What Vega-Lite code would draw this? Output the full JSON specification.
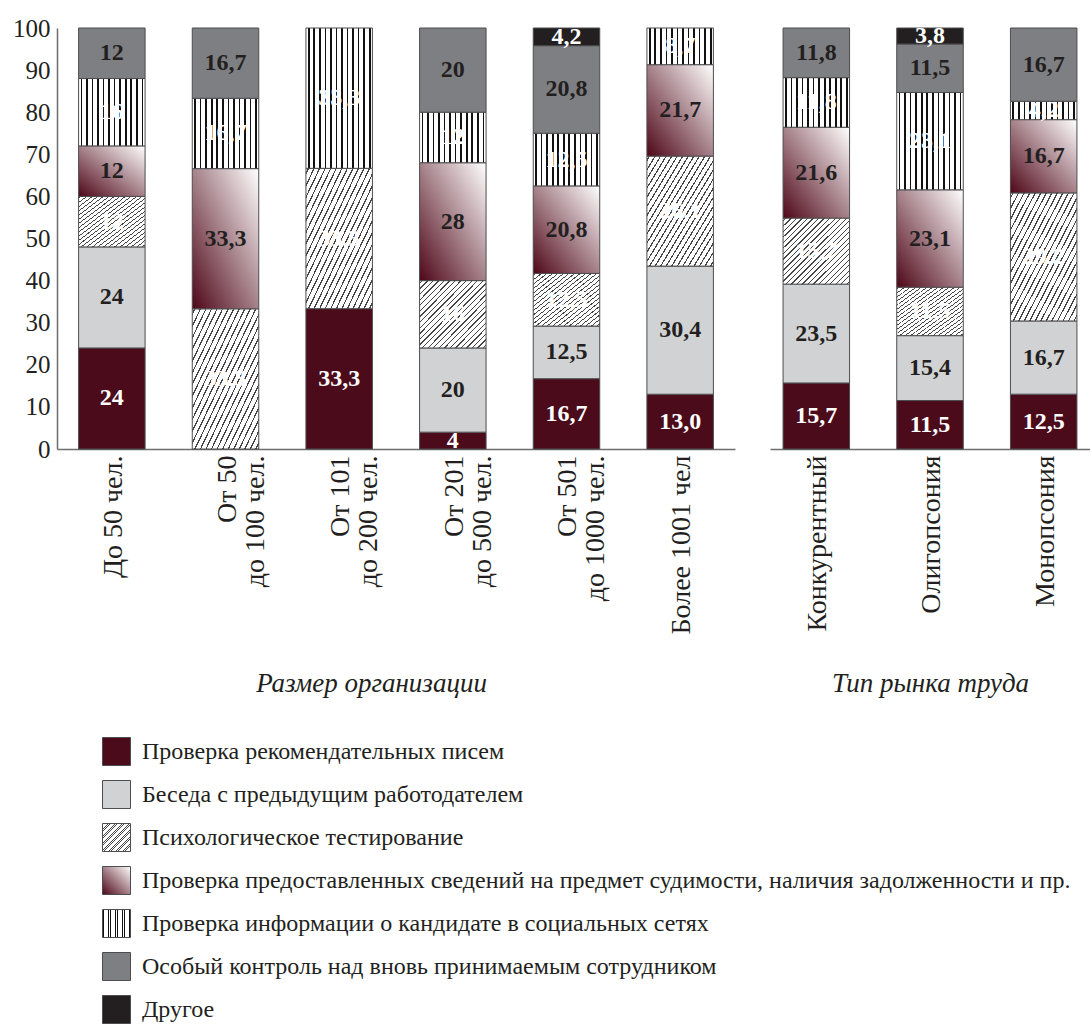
{
  "$schema": "https://vega.github.io/schema/vega-lite/v6.json",
  "padding": {"left": 12, "top": 16, "right": 0, "bottom": 0},
  "config": {"view": {"stroke": null}, "font": "'Liberation Serif', 'Times New Roman', Tinos, 'DejaVu Serif', serif"},
  "data": {"values": [
    {"group": "size", "cat": "До 50 чел.", "method": "Проверка рекомендательных писем", "value": 24, "label": "24"},
    {"group": "size", "cat": "До 50 чел.", "method": "Беседа с предыдущим работодателем", "value": 24, "label": "24"},
    {"group": "size", "cat": "До 50 чел.", "method": "Психологическое тестирование", "value": 12, "label": "12"},
    {"group": "size", "cat": "До 50 чел.", "method": "Проверка предоставленных сведений на предмет судимости, наличия задолженности и пр.", "value": 12, "label": "12"},
    {"group": "size", "cat": "До 50 чел.", "method": "Проверка информации о кандидате в социальных сетях", "value": 16, "label": "16"},
    {"group": "size", "cat": "До 50 чел.", "method": "Особый контроль над вновь принимаемым сотрудником", "value": 12, "label": "12"},
    {"group": "size", "cat": "От 50 до 100 чел.", "method": "Психологическое тестирование", "value": 33.3, "label": "33,3"},
    {"group": "size", "cat": "От 50 до 100 чел.", "method": "Проверка предоставленных сведений на предмет судимости, наличия задолженности и пр.", "value": 33.3, "label": "33,3"},
    {"group": "size", "cat": "От 50 до 100 чел.", "method": "Проверка информации о кандидате в социальных сетях", "value": 16.7, "label": "16,7"},
    {"group": "size", "cat": "От 50 до 100 чел.", "method": "Особый контроль над вновь принимаемым сотрудником", "value": 16.7, "label": "16,7"},
    {"group": "size", "cat": "От 101 до 200 чел.", "method": "Проверка рекомендательных писем", "value": 33.3, "label": "33,3"},
    {"group": "size", "cat": "От 101 до 200 чел.", "method": "Психологическое тестирование", "value": 33.3, "label": "33,3"},
    {"group": "size", "cat": "От 101 до 200 чел.", "method": "Проверка информации о кандидате в социальных сетях", "value": 33.3, "label": "33,3"},
    {"group": "size", "cat": "От 201 до 500 чел.", "method": "Проверка рекомендательных писем", "value": 4, "label": "4"},
    {"group": "size", "cat": "От 201 до 500 чел.", "method": "Беседа с предыдущим работодателем", "value": 20, "label": "20"},
    {"group": "size", "cat": "От 201 до 500 чел.", "method": "Психологическое тестирование", "value": 16, "label": "16"},
    {"group": "size", "cat": "От 201 до 500 чел.", "method": "Проверка предоставленных сведений на предмет судимости, наличия задолженности и пр.", "value": 28, "label": "28"},
    {"group": "size", "cat": "От 201 до 500 чел.", "method": "Проверка информации о кандидате в социальных сетях", "value": 12, "label": "12"},
    {"group": "size", "cat": "От 201 до 500 чел.", "method": "Особый контроль над вновь принимаемым сотрудником", "value": 20, "label": "20"},
    {"group": "size", "cat": "От 501 до 1000 чел.", "method": "Проверка рекомендательных писем", "value": 16.7, "label": "16,7"},
    {"group": "size", "cat": "От 501 до 1000 чел.", "method": "Беседа с предыдущим работодателем", "value": 12.5, "label": "12,5"},
    {"group": "size", "cat": "От 501 до 1000 чел.", "method": "Психологическое тестирование", "value": 12.5, "label": "12,5"},
    {"group": "size", "cat": "От 501 до 1000 чел.", "method": "Проверка предоставленных сведений на предмет судимости, наличия задолженности и пр.", "value": 20.8, "label": "20,8"},
    {"group": "size", "cat": "От 501 до 1000 чел.", "method": "Проверка информации о кандидате в социальных сетях", "value": 12.5, "label": "12,5"},
    {"group": "size", "cat": "От 501 до 1000 чел.", "method": "Особый контроль над вновь принимаемым сотрудником", "value": 20.8, "label": "20,8"},
    {"group": "size", "cat": "От 501 до 1000 чел.", "method": "Другое", "value": 4.2, "label": "4,2"},
    {"group": "size", "cat": "Более 1001 чел", "method": "Проверка рекомендательных писем", "value": 13.0, "label": "13,0"},
    {"group": "size", "cat": "Более 1001 чел", "method": "Беседа с предыдущим работодателем", "value": 30.4, "label": "30,4"},
    {"group": "size", "cat": "Более 1001 чел", "method": "Психологическое тестирование", "value": 26.1, "label": "26,1"},
    {"group": "size", "cat": "Более 1001 чел", "method": "Проверка предоставленных сведений на предмет судимости, наличия задолженности и пр.", "value": 21.7, "label": "21,7"},
    {"group": "size", "cat": "Более 1001 чел", "method": "Проверка информации о кандидате в социальных сетях", "value": 8.7, "label": "8,7"},
    {"group": "market", "cat": "Конкурентный", "method": "Проверка рекомендательных писем", "value": 15.7, "label": "15,7"},
    {"group": "market", "cat": "Конкурентный", "method": "Беседа с предыдущим работодателем", "value": 23.5, "label": "23,5"},
    {"group": "market", "cat": "Конкурентный", "method": "Психологическое тестирование", "value": 15.7, "label": "15,7"},
    {"group": "market", "cat": "Конкурентный", "method": "Проверка предоставленных сведений на предмет судимости, наличия задолженности и пр.", "value": 21.6, "label": "21,6"},
    {"group": "market", "cat": "Конкурентный", "method": "Проверка информации о кандидате в социальных сетях", "value": 11.8, "label": "11,8"},
    {"group": "market", "cat": "Конкурентный", "method": "Особый контроль над вновь принимаемым сотрудником", "value": 11.8, "label": "11,8"},
    {"group": "market", "cat": "Олигопсония", "method": "Проверка рекомендательных писем", "value": 11.5, "label": "11,5"},
    {"group": "market", "cat": "Олигопсония", "method": "Беседа с предыдущим работодателем", "value": 15.4, "label": "15,4"},
    {"group": "market", "cat": "Олигопсония", "method": "Психологическое тестирование", "value": 11.5, "label": "11,5"},
    {"group": "market", "cat": "Олигопсония", "method": "Проверка предоставленных сведений на предмет судимости, наличия задолженности и пр.", "value": 23.1, "label": "23,1"},
    {"group": "market", "cat": "Олигопсония", "method": "Проверка информации о кандидате в социальных сетях", "value": 23.1, "label": "23,1"},
    {"group": "market", "cat": "Олигопсония", "method": "Особый контроль над вновь принимаемым сотрудником", "value": 11.5, "label": "11,5"},
    {"group": "market", "cat": "Олигопсония", "method": "Другое", "value": 3.8, "label": "3,8"},
    {"group": "market", "cat": "Монопсония", "method": "Проверка рекомендательных писем", "value": 12.5, "label": "12,5"},
    {"group": "market", "cat": "Монопсония", "method": "Беседа с предыдущим работодателем", "value": 16.7, "label": "16,7"},
    {"group": "market", "cat": "Монопсония", "method": "Психологическое тестирование", "value": 29.2, "label": "29,2"},
    {"group": "market", "cat": "Монопсония", "method": "Проверка предоставленных сведений на предмет судимости, наличия задолженности и пр.", "value": 16.7, "label": "16,7"},
    {"group": "market", "cat": "Монопсония", "method": "Проверка информации о кандидате в социальных сетях", "value": 4.2, "label": "4,2"},
    {"group": "market", "cat": "Монопсония", "method": "Особый контроль над вновь принимаемым сотрудником", "value": 16.7, "label": "16,7"}
  ]},
  "transform": [
    {"calculate": "indexof(['Проверка рекомендательных писем','Беседа с предыдущим работодателем','Психологическое тестирование','Проверка предоставленных сведений на предмет судимости, наличия задолженности и пр.','Проверка информации о кандидате в социальных сетях','Особый контроль над вновь принимаемым сотрудником','Другое'], datum.method)", "as": "ord"},
    {"stack": "value", "groupby": ["cat"], "sort": [{"field": "ord", "order": "ascending"}], "offset": "normalize", "as": ["y0", "y1"]},
    {"calculate": "(datum.y0 + datum.y1) / 2", "as": "mid"}
  ],
  "spacing": 35,
  "resolve": {"scale": {"x": "independent", "y": "shared", "fill": "shared"}},
  "hconcat": [
    {
      "width": 678,
      "height": 421,
      "transform": [{"filter": "datum.group === 'size'"}],
      "encoding": {
        "x": {"field": "cat", "type": "nominal", "sort": null,
          "scale": {"paddingInner": 0.415, "paddingOuter": 0.19},
          "axis": {"title": "Размер организации", "titleFontStyle": "italic", "titleFontWeight": "normal", "titleFontSize": 27, "titleColor": "#231f20", "titleY": 221, "titleX": 314, "titleAlign": "center", "titleBaseline": "top",
            "labelAngle": -90, "labelFontSize": 28, "labelColor": "#231f20", "labelBaseline": "alphabetic", "labelAlign": "right", "labelOffset": 10, "labelPadding": 6, "labelLineHeight": 28, "labelLimit": 400,
            "labelExpr": "indexof(datum.label, ' до ') > 0 ? [slice(datum.label, 0, indexof(datum.label, ' до ')), slice(datum.label, indexof(datum.label, ' до ') + 1)] : datum.label",
            "ticks": false, "domainColor": "#6d6e71", "domainWidth": 1.5}}
      },
      "layer": [
        {
          "mark": {"type": "bar", "stroke": "#4d4d4f", "strokeWidth": 1},
          "encoding": {
            "y": {"field": "y0", "type": "quantitative", "scale": {"domain": [0, 1], "nice": false},
              "axis": {"title": null, "values": [0, 0.1, 0.2, 0.3, 0.4, 0.5, 0.6, 0.7, 0.8, 0.9, 1], "labelExpr": "format(datum.value * 100, 'd')", "ticks": false, "grid": false, "labelFontSize": 25, "labelColor": "#231f20", "labelPadding": 7, "labelOverlap": false, "labelFlush": false, "domainColor": "#6d6e71", "domainWidth": 1.5}},
            "y2": {"field": "y1"},
            "fill": {"field": "method", "type": "nominal",
              "scale": {"domain": ["Проверка рекомендательных писем", "Беседа с предыдущим работодателем", "Психологическое тестирование", "Проверка предоставленных сведений на предмет судимости, наличия задолженности и пр.", "Проверка информации о кандидате в социальных сетях", "Особый контроль над вновь принимаемым сотрудником", "Другое"],
                "range": [
                  "#4b0b1a",
                  "#d1d2d4",
                  {"expr": "{gradient:'linear',x1:0,y1:0,x2:1,y2:1,stops:[{offset:0,color:'#fff'},{offset:0.015,color:'#fff'},{offset:0.015,color:'#444'},{offset:0.025,color:'#444'},{offset:0.025,color:'#fff'},{offset:0.0567,color:'#fff'},{offset:0.0567,color:'#444'},{offset:0.0667,color:'#444'},{offset:0.0667,color:'#fff'},{offset:0.0983,color:'#fff'},{offset:0.0983,color:'#444'},{offset:0.1083,color:'#444'},{offset:0.1083,color:'#fff'},{offset:0.14,color:'#fff'},{offset:0.14,color:'#444'},{offset:0.15,color:'#444'},{offset:0.15,color:'#fff'},{offset:0.1817,color:'#fff'},{offset:0.1817,color:'#444'},{offset:0.1917,color:'#444'},{offset:0.1917,color:'#fff'},{offset:0.2233,color:'#fff'},{offset:0.2233,color:'#444'},{offset:0.2333,color:'#444'},{offset:0.2333,color:'#fff'},{offset:0.265,color:'#fff'},{offset:0.265,color:'#444'},{offset:0.275,color:'#444'},{offset:0.275,color:'#fff'},{offset:0.3067,color:'#fff'},{offset:0.3067,color:'#444'},{offset:0.3167,color:'#444'},{offset:0.3167,color:'#fff'},{offset:0.3483,color:'#fff'},{offset:0.3483,color:'#444'},{offset:0.3583,color:'#444'},{offset:0.3583,color:'#fff'},{offset:0.39,color:'#fff'},{offset:0.39,color:'#444'},{offset:0.4,color:'#444'},{offset:0.4,color:'#fff'},{offset:0.4317,color:'#fff'},{offset:0.4317,color:'#444'},{offset:0.4417,color:'#444'},{offset:0.4417,color:'#fff'},{offset:0.4733,color:'#fff'},{offset:0.4733,color:'#444'},{offset:0.4833,color:'#444'},{offset:0.4833,color:'#fff'},{offset:0.515,color:'#fff'},{offset:0.515,color:'#444'},{offset:0.525,color:'#444'},{offset:0.525,color:'#fff'},{offset:0.5567,color:'#fff'},{offset:0.5567,color:'#444'},{offset:0.5667,color:'#444'},{offset:0.5667,color:'#fff'},{offset:0.5983,color:'#fff'},{offset:0.5983,color:'#444'},{offset:0.6083,color:'#444'},{offset:0.6083,color:'#fff'},{offset:0.64,color:'#fff'},{offset:0.64,color:'#444'},{offset:0.65,color:'#444'},{offset:0.65,color:'#fff'},{offset:0.6817,color:'#fff'},{offset:0.6817,color:'#444'},{offset:0.6917,color:'#444'},{offset:0.6917,color:'#fff'},{offset:0.7233,color:'#fff'},{offset:0.7233,color:'#444'},{offset:0.7333,color:'#444'},{offset:0.7333,color:'#fff'},{offset:0.765,color:'#fff'},{offset:0.765,color:'#444'},{offset:0.775,color:'#444'},{offset:0.775,color:'#fff'},{offset:0.8067,color:'#fff'},{offset:0.8067,color:'#444'},{offset:0.8167,color:'#444'},{offset:0.8167,color:'#fff'},{offset:0.8483,color:'#fff'},{offset:0.8483,color:'#444'},{offset:0.8583,color:'#444'},{offset:0.8583,color:'#fff'},{offset:0.89,color:'#fff'},{offset:0.89,color:'#444'},{offset:0.9,color:'#444'},{offset:0.9,color:'#fff'},{offset:0.9317,color:'#fff'},{offset:0.9317,color:'#444'},{offset:0.9417,color:'#444'},{offset:0.9417,color:'#fff'},{offset:0.9733,color:'#fff'},{offset:0.9733,color:'#444'},{offset:0.9833,color:'#444'},{offset:0.9833,color:'#fff'},{offset:1,color:'#fff'}]}"},
                  {"expr": "{gradient:'linear',x1:0,y1:1,x2:1,y2:0,stops:[{offset:0,color:'#4e0617'},{offset:1,color:'#ffffff'}]}"},
                  {"expr": "{gradient:'linear',x1:0,y1:0,x2:1,y2:0,stops:[{offset:0,color:'#fff'},{offset:0.03,color:'#fff'},{offset:0.03,color:'#111'},{offset:0.055,color:'#111'},{offset:0.055,color:'#fff'},{offset:0.1133,color:'#fff'},{offset:0.1133,color:'#111'},{offset:0.1383,color:'#111'},{offset:0.1383,color:'#fff'},{offset:0.1967,color:'#fff'},{offset:0.1967,color:'#111'},{offset:0.2217,color:'#111'},{offset:0.2217,color:'#fff'},{offset:0.28,color:'#fff'},{offset:0.28,color:'#111'},{offset:0.305,color:'#111'},{offset:0.305,color:'#fff'},{offset:0.3633,color:'#fff'},{offset:0.3633,color:'#111'},{offset:0.3883,color:'#111'},{offset:0.3883,color:'#fff'},{offset:0.4467,color:'#fff'},{offset:0.4467,color:'#111'},{offset:0.4717,color:'#111'},{offset:0.4717,color:'#fff'},{offset:0.53,color:'#fff'},{offset:0.53,color:'#111'},{offset:0.555,color:'#111'},{offset:0.555,color:'#fff'},{offset:0.6133,color:'#fff'},{offset:0.6133,color:'#111'},{offset:0.6383,color:'#111'},{offset:0.6383,color:'#fff'},{offset:0.6967,color:'#fff'},{offset:0.6967,color:'#111'},{offset:0.7217,color:'#111'},{offset:0.7217,color:'#fff'},{offset:0.78,color:'#fff'},{offset:0.78,color:'#111'},{offset:0.805,color:'#111'},{offset:0.805,color:'#fff'},{offset:0.8633,color:'#fff'},{offset:0.8633,color:'#111'},{offset:0.8883,color:'#111'},{offset:0.8883,color:'#fff'},{offset:0.9467,color:'#fff'},{offset:0.9467,color:'#111'},{offset:0.9717,color:'#111'},{offset:0.9717,color:'#fff'},{offset:1,color:'#fff'}]}"},
                  "#7e7f83",
                  "#231f20"
                ]},
              "legend": {"orient": "none", "legendX": 45, "legendY": 709, "title": null, "direction": "vertical", "symbolType": "square", "symbolSize": 784, "symbolStrokeColor": "#4d4d4f", "symbolStrokeWidth": 1, "symbolOpacity": 1, "labelFontSize": 24, "labelColor": "#231f20", "labelLimit": 1100, "labelOffset": 11, "rowPadding": 10}}
          }
        },
        {
          "mark": {"type": "text", "fontSize": 24, "fontWeight": "bold", "baseline": "middle", "align": "center"},
          "encoding": {
            "y": {"field": "mid", "type": "quantitative"},
            "text": {"field": "label"},
            "fill": {"condition": {"test": "datum.ord === 1 || datum.ord === 3 || datum.ord === 5", "value": "#231f20"}, "value": "#ffffff"}
          }
        }
      ]
    },
    {
      "width": 320,
      "height": 421,
      "transform": [{"filter": "datum.group === 'market'"}],
      "encoding": {
        "x": {"field": "cat", "type": "nominal", "sort": null,
          "scale": {"paddingInner": 0.415, "paddingOuter": 0.115},
          "axis": {"title": "Тип рынка труда", "titleFontStyle": "italic", "titleFontWeight": "normal", "titleFontSize": 27, "titleColor": "#231f20", "titleY": 221, "titleBaseline": "top",
            "labelAngle": -90, "labelFontSize": 28, "labelColor": "#231f20", "labelBaseline": "alphabetic", "labelAlign": "right", "labelOffset": 10, "labelPadding": 6, "labelLineHeight": 28, "labelLimit": 400,
            "ticks": false, "domainColor": "#6d6e71", "domainWidth": 1.5}}
      },
      "layer": [
        {
          "mark": {"type": "bar", "stroke": "#4d4d4f", "strokeWidth": 1},
          "encoding": {
            "y": {"field": "y0", "type": "quantitative", "scale": {"domain": [0, 1], "nice": false}, "axis": null},
            "y2": {"field": "y1"},
            "fill": {"field": "method", "type": "nominal"}
          }
        },
        {
          "mark": {"type": "text", "fontSize": 24, "fontWeight": "bold", "baseline": "middle", "align": "center"},
          "encoding": {
            "y": {"field": "mid", "type": "quantitative"},
            "text": {"field": "label"},
            "fill": {"condition": {"test": "datum.ord === 1 || datum.ord === 3 || datum.ord === 5", "value": "#231f20"}, "value": "#ffffff"}
          }
        }
      ]
    }
  ]
}
